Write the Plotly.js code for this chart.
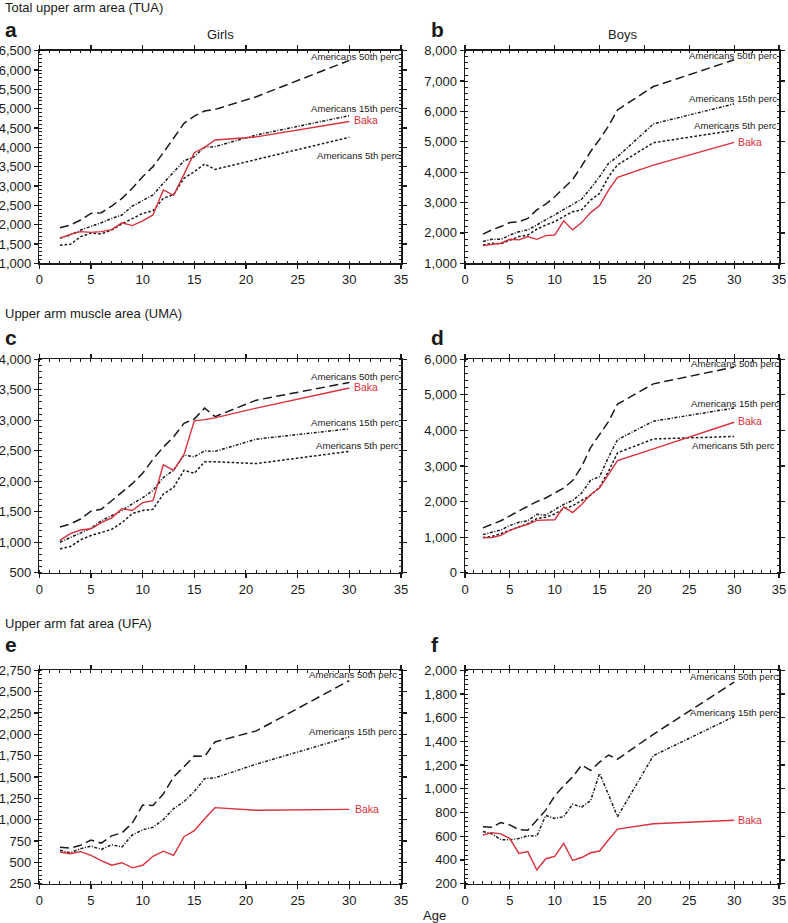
<!DOCTYPE html>
<html>
<head>
<meta charset="utf-8">
<script src="https://cdn.plot.ly/plotly-3.0.1.min.js"></script>
<style>html,body{margin:0;padding:0;background:#fff}#chart{width:788px;height:923px}</style>
</head>
<body>
<div id="chart"></div>
<script>
// ---------- DATA ----------
const ages = [2,3,4,5,6,7,8,9,10,11,12,13,14,15,16,17,21,30];

// Total upper arm area (TUA)
const tuaGirlsBaka = [1650,1750,1820,1800,1820,1870,2050,1975,2100,2250,2900,2760,3300,3860,4000,4190,4270,4670];
const tuaGirlsP50  = [1920,1990,2120,2290,2310,2480,2680,2940,3240,3500,3860,4230,4620,4810,4940,4980,5310,6250];
const tuaGirlsP15  = [1650,1730,1860,1950,2050,2160,2250,2480,2620,2770,3070,3370,3650,3760,4000,4020,4320,4820];
const tuaGirlsP5   = [1470,1490,1690,1780,1760,1860,2020,2160,2290,2360,2680,2780,3200,3370,3570,3430,3690,4260];

const tuaBoysBaka = [1580,1625,1660,1790,1770,1880,1790,1910,1930,2400,2100,2340,2670,2900,3410,3830,4230,4980];
const tuaBoysP50  = [1960,2100,2210,2340,2370,2480,2760,2950,3190,3470,3760,4200,4680,5080,5520,6050,6820,7700];
const tuaBoysP15  = [1720,1790,1790,1930,2040,2100,2260,2430,2590,2760,2950,3110,3470,3850,4290,4510,5590,6250];
const tuaBoysP5   = [1600,1660,1640,1750,1880,1930,2120,2260,2370,2540,2700,2760,3080,3300,3850,4240,4970,5380];

// Upper arm muscle area (UMA)
const umaGirlsBaka = [1030,1140,1200,1220,1320,1400,1550,1520,1650,1680,2270,2180,2440,2990,3010,3040,3200,3530];
const umaGirlsP50  = [1250,1300,1380,1510,1540,1680,1830,1960,2130,2360,2560,2730,2950,3020,3200,3060,3330,3620];
const umaGirlsP15  = [1000,1080,1160,1230,1350,1430,1520,1630,1730,1850,2060,2180,2430,2400,2500,2490,2690,2860];
const umaGirlsP5   = [890,930,1040,1110,1160,1210,1320,1470,1520,1540,1790,1900,2180,2130,2320,2320,2290,2490];

const umaBoysBaka = [980,990,1050,1190,1280,1360,1470,1480,1490,1850,1690,1920,2200,2380,2760,3150,3480,4230];
const umaBoysP50  = [1260,1350,1460,1600,1740,1860,2000,2100,2230,2380,2590,2980,3520,3900,4250,4740,5310,5780];
const umaBoysP15  = [1070,1140,1200,1330,1420,1460,1640,1620,1770,1920,2030,2240,2600,2700,3250,3740,4260,4630];
const umaBoysP5   = [990,1020,1100,1200,1300,1380,1520,1560,1650,1800,1880,2030,2180,2400,2850,3370,3760,3830];

// Upper arm fat area (UFA)
const ufaGirlsBaka = [620,600,625,580,520,465,495,435,465,570,630,580,800,870,1010,1140,1110,1120];
const ufaGirlsP50  = [675,665,700,760,725,810,845,960,1170,1165,1300,1500,1620,1745,1740,1910,2040,2630];
const ufaGirlsP15  = [640,610,660,690,650,705,680,820,880,910,1000,1130,1210,1330,1480,1490,1650,1970];

const ufaBoysBaka = [610,630,620,580,455,470,315,410,430,540,395,420,460,475,570,660,705,735];
const ufaBoysP50  = [680,675,715,695,655,650,735,820,940,1025,1100,1200,1155,1225,1285,1250,1460,1900];
const ufaBoysP15  = [640,620,570,570,580,605,600,775,750,765,870,845,900,1130,950,765,1280,1610];

const seriesNames = {baka:'Baka', p50:'Americans 50th perc', p15:'Americans 15th perc', p5:'Americans 5th perc'};
const sectionTitles = ['Total upper arm area (TUA)','Upper arm muscle area (UMA)','Upper arm fat area (UFA)'];
const panelLetters = ['a','b','c','d','e','f'];
const columnTitles = ['Girls','Boys'];
const xTitle = 'Age';

// ---------- STYLE ----------
const RED = '#d8303c';
const INK = '#1a1a1a';
const FONT = 'Liberation Sans, Arial, Helvetica, sans-serif';
const dashes = {p50:'9px,4.5px', p15:'3px,1.6px,1px,1.6px', p5:'2.6px,2px'};

const panels = [
  {ax:'', data:{baka:tuaGirlsBaka,p50:tuaGirlsP50,p15:tuaGirlsP15,p5:tuaGirlsP5}, yr:[1000,6500], dt:500,
   lab:{p50:[26.2,6345],p15:[26.2,5010],p5:[26.76,3776],baka:[30.37,4707]}},
  {ax:'2', data:{baka:tuaBoysBaka,p50:tuaBoysP50,p15:tuaBoysP15,p5:tuaBoysP5}, yr:[1000,8000], dt:1000,
   lab:{p50:[24.86,7858],p15:[24.86,6410],p5:[25.45,5553],baka:[30.35,5003]}},
  {ax:'3', data:{baka:umaGirlsBaka,p50:umaGirlsP50,p15:umaGirlsP15,p5:umaGirlsP5}, yr:[500,4000], dt:500,
   lab:{p50:[26.2,3726],p15:[26.2,2967],p5:[26.72,2583],baka:[30.33,3551]}},
  {ax:'4', data:{baka:umaBoysBaka,p50:umaBoysP50,p15:umaBoysP15,p5:umaBoysP5}, yr:[0,6000], dt:1000,
   lab:{p50:[25.08,5871],p15:[25.08,4749],p5:[25.16,3580],baka:[30.35,4262]}},
  {ax:'5', data:{baka:ufaGirlsBaka,p50:ufaGirlsP50,p15:ufaGirlsP15}, yr:[250,2750], dt:250,
   lab:{p50:[26.04,2703],p15:[26.04,2027],baka:[30.46,1129]}},
  {ax:'6', data:{baka:ufaBoysBaka,p50:ufaBoysP50,p15:ufaBoysP15}, yr:[200,2000], dt:200,
   lab:{p50:[24.97,1944],p15:[24.97,1641],baka:[30.35,736]}}
];

const W = 788, H = 923;
const px = v => v / W, py = v => 1 - v / H;
const xDomains = [[px(39.3), px(401)], [px(465), px(779)]];
const yDomains = [[py(263.3), py(50.7)], [py(572.7), py(359.3)], [py(883.6), py(670.3)]];

const traces = [];
const annotations = [];
const layout = {
  width: W, height: H, margin:{l:0,r:0,t:0,b:0},
  paper_bgcolor:'#fff', plot_bgcolor:'#fff', showlegend:false,
  font:{family:FONT, color:INK, size:13}
};

panels.forEach((p, i) => {
  const col = i % 2, row = Math.floor(i / 2);
  const xa = 'x' + p.ax, ya = 'y' + p.ax;
  ['p50','p15','p5','baka'].forEach(k => {
    if (!p.data[k]) return;
    traces.push({
      type:'scatter', mode:'lines', x:ages, y:p.data[k], xaxis:xa, yaxis:ya,
      name:seriesNames[k], hoverinfo:'skip',
      line: k === 'baka' ? {color:RED, width:1.4} : {color:INK, width:1.5, dash:dashes[k]}
    });
    const pos = p.lab[k];
    annotations.push({
      xref:xa, yref:ya, x:pos[0], y:pos[1], text:seriesNames[k], showarrow:false,
      xanchor:'left', yanchor:'middle', borderpad:0,
      font:{family:FONT, size: k === 'baka' ? 10.5 : 9.6, color: k === 'baka' ? RED : INK}
    });
  });
  const common = {
    showline:true, linecolor:INK, linewidth:1.5, mirror:'allticks',
    ticks:'outside', ticklen:4, tickwidth:1.2, tickcolor:INK,
    showgrid:false, zeroline:false, fixedrange:true,
    tickfont:{family:FONT, size:13, color:INK},
    minor:{ticks:'inside', ticklen:2.5, tickwidth:1, tickcolor:INK, showgrid:false}
  };
  layout['xaxis' + p.ax] = Object.assign({}, common, {
    domain:xDomains[col], anchor:ya, range:[0,35], tickmode:'linear', tick0:0, dtick:5,
    minor:Object.assign({}, common.minor, {dtick:1})
  });
  layout['yaxis' + p.ax] = Object.assign({}, common, {
    domain:yDomains[row], anchor:xa, range:p.yr, tickmode:'linear', tick0:p.yr[0], dtick:p.dt,
    tickformat:',d', separatethousands:true,
    minor:Object.assign({}, common.minor, {dtick:p.dt/5})
  });
  // panel letter
  const letterY = [30, 337, 644][row];
  annotations.push({xref:'paper', yref:'paper', x:px(col ? 429 : 3), y:py(letterY),
    text:'<b>' + panelLetters[i] + '</b>', showarrow:false, xanchor:'left', yanchor:'middle',
    font:{family:FONT, size:21, color:INK}});
});

// section titles
[8, 313, 623].forEach((yy, r) => {
  annotations.push({xref:'paper', yref:'paper', x:px(3), y:py(yy), text:sectionTitles[r],
    showarrow:false, xanchor:'left', yanchor:'middle', font:{family:FONT, size:13, color:INK}});
});
// column titles
[220, 622].forEach((xx, c) => {
  annotations.push({xref:'paper', yref:'paper', x:px(xx), y:py(34), text:columnTitles[c],
    showarrow:false, xanchor:'center', yanchor:'middle', font:{family:FONT, size:13, color:INK}});
});
// x title
annotations.push({xref:'paper', yref:'paper', x:px(435), y:py(915), text:xTitle,
  showarrow:false, xanchor:'center', yanchor:'middle', font:{family:FONT, size:13, color:INK}});

layout.annotations = annotations;
Plotly.newPlot('chart', traces, layout, {staticPlot:true, displayModeBar:false});
</script>
</body>
</html>
